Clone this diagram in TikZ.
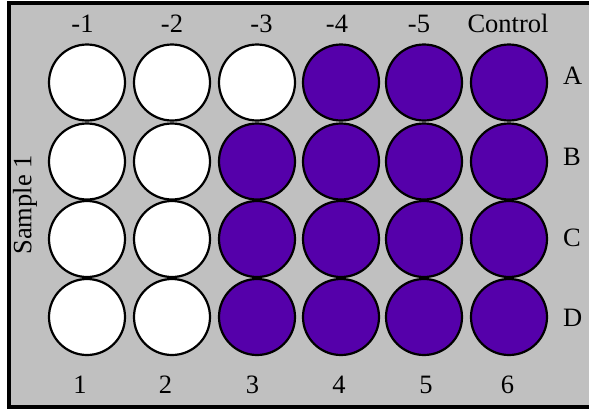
\documentclass[tikz,border=0pt]{standalone}
\usepackage{fontspec}
\setmainfont{Liberation Serif}
\definecolor{PlateGray}{HTML}{C0C0C0}
\definecolor{WellPurple}{HTML}{5500AA}

\begin{document}
\begin{tikzpicture}[
  x=1pt, y=-1pt,
  well/.style={circle, draw=black, line width=2.2pt,
               minimum size=76pt, inner sep=0pt},
  wellempty/.style={well, fill=white},
  wellfull/.style={well, fill=WellPurple},
  lbl/.style={font=\fontsize{26.5}{31}\selectfont, inner sep=0pt},
]
\useasboundingbox (0,0) rectangle (589,410);
\clip (0,0) rectangle (589,410);
% plate
\draw[fill=PlateGray, line width=4pt] (9,2.5) rectangle (600,406.5);

% wells: \n = number of white wells in the row
\foreach \r/\y/\n in {A/82.5/3, B/161.5/2, C/239/2, D/317/2} {
  \foreach \c/\x in {1/87, 2/172, 3/257, 4/341, 5/424, 6/509} {
    \ifnum\c>\n \def\wellstyle{wellfull}\else\def\wellstyle{wellempty}\fi
    \node[\wellstyle] (well-\r\c) at (\x,\y) {};
  }
}

% dilution labels
\foreach \t/\x [count=\i] in {-1/82.5, -2/172, -3/261.5, -4/337, -5/419, Control/508}
  \node[lbl, anchor=base] (dil\i) at (\x,32) {\t};

% column numbers
\foreach \t/\x in {1/80, 2/165.5, 3/252.5, 4/339, 5/426, 6/507.5}
  \node[lbl, anchor=base] (col\t) at (\x,393) {\t};

% row letters
\foreach \r/\y in {A/84, B/165, C/246, D/326}
  \node[lbl, anchor=base west] (row\r) at (563,\y) {\r};

\node[lbl, rotate=90] (sample) at (25,205) {Sample 1};
\end{tikzpicture}
\end{document}
